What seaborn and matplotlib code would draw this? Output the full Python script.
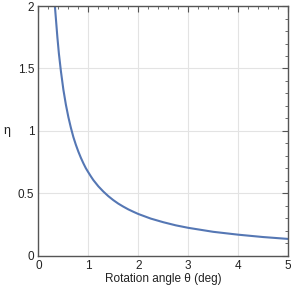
import numpy as np
import pandas as pd
import matplotlib
matplotlib.use("Agg")
import matplotlib.pyplot as plt
import seaborn as sns
from matplotlib.ticker import MultipleLocator

# values
theta = [0.33, 0.35, 0.38, 0.41, 0.45, 0.50, 0.55, 0.60, 0.65, 0.70, 0.75,
         0.80, 0.85, 0.90, 0.95, 1.00, 1.05, 1.10, 1.15, 1.20, 1.30, 1.40,
         1.50, 1.60, 1.70, 1.80, 1.90, 2.00, 2.25, 2.50, 2.75, 3.00, 3.50,
         4.00, 4.50, 5.00]
eta = [2.00, 1.90, 1.75, 1.62, 1.48, 1.33, 1.21, 1.11, 1.025, 0.95, 0.888,
       0.833, 0.784, 0.74, 0.70, 0.667, 0.635, 0.605, 0.58, 0.555, 0.513,
       0.476, 0.444, 0.416, 0.392, 0.370, 0.351, 0.333, 0.296, 0.267, 0.242,
       0.222, 0.19, 0.167, 0.148, 0.133]

x_ticks = [0, 1, 2, 3, 4, 5]
x_labels = ["0", "1", "2", "3", "4", "5"]
y_ticks = [0, 0.5, 1, 1.5, 2]
y_labels = ["0", "0.5", "1", "1.5", "2"]

df = pd.DataFrame({"theta": theta, "eta": eta})

sns.set_style("white")
plt.rcParams["font.family"] = ["Liberation Sans", "DejaVu Sans"]

fig, ax = plt.subplots(figsize=(2.91, 2.92), dpi=100)
fig.subplots_adjust(left=0.132, right=0.99, bottom=0.125, top=0.979)

sns.lineplot(data=df, x="theta", y="eta", color="#5577b4", linewidth=1.5, ax=ax)

ax.set_xlim(0, 5)
ax.set_ylim(0, 2)
ax.set_xticks(x_ticks)
ax.set_xticklabels(x_labels)
ax.set_yticks(y_ticks)
ax.set_yticklabels(y_labels)
ax.xaxis.set_minor_locator(MultipleLocator(0.2))
ax.yaxis.set_minor_locator(MultipleLocator(0.1))

ax.grid(True, which="major", color="#e3e3e3", linewidth=0.8)
ax.set_axisbelow(True)
ax.tick_params(which="both", direction="in", top=True, right=True,
               color="#555555", labelsize=8.5, labelcolor="#222222", pad=3)
ax.tick_params(which="major", length=4, width=0.8)
ax.tick_params(which="minor", length=2, width=0.6)
for s in ax.spines.values():
    s.set_color("#555555")
    s.set_linewidth(1.0)

ax.set_xlabel("Rotation angle \u03b8 (deg)", fontsize=8.5, color="#222222", labelpad=1)
ax.set_ylabel("\u03b7", fontsize=9, color="#222222", rotation=0, va="center", ha="center")
ax.yaxis.set_label_coords(-0.125, 0.5)

fig.savefig("out.png", dpi=100)
plt.close(fig)
